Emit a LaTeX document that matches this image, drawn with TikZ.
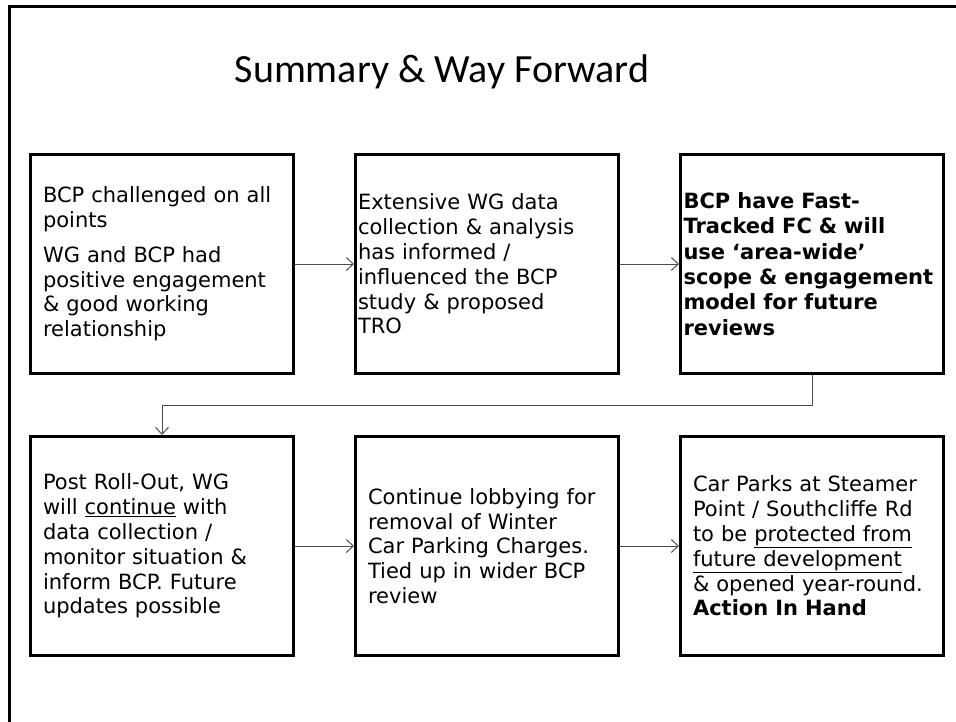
\documentclass[tikz,border=0pt]{standalone}
\usepackage{fontspec}
\setmainfont{DejaVu Sans}
\newfontfamily\titlefont{Carlito}
\usetikzlibrary{positioning, arrows.meta}

\begin{document}
\begin{tikzpicture}[x=1pt,y=-1pt,node distance=282pt and 325pt,on grid,
    >={Straight Barb[length=7pt,width=13pt]},
    box/.style={draw,line width=3pt,minimum width=263pt,minimum height=219pt,
      inner sep=0pt,align=left,font=\fontsize{21}{24.8}\selectfont},
    boldbox/.style={box,font=\fontsize{21}{25.4}\selectfont\bfseries},
    flow/.style={->,line width=1pt,black!70}]
	\useasboundingbox (0,0) rectangle (956,721);
	\draw[line width=3pt] (9,722) -- (9,6) -- (957,6);
	\node[anchor=base,font=\titlefont\fontsize{40}{46}\selectfont] (title) at (442,82) {Summary \& Way Forward};

	\node[box,text width=238pt] (b1) at (162,264)
		{BCP challenged on all\\points\\[10pt]WG and BCP had\\positive engagement\\\& good working\\relationship};
	\node[box,text width=258pt] (b2) [right=of b1]
		{Extensive WG data\\collection \& analysis\\has informed /\\influenced the BCP\\study \& proposed\\TRO};
	\node[boldbox,text width=257pt] (b3) [right=of b2]
		{BCP have Fast-\\Tracked FC \& will\\use ‘area-wide’\\scope \& engagement\\model for future\\reviews};
	\node[box,text width=238pt] (b4) [below=of b1]
		{Post Roll-Out, WG\\will \underline{continue} with\\data collection /\\monitor situation \&\\inform BCP. Future\\updates possible};
	\node[box,text width=238pt] (b5) [right=of b4]
		{Continue lobbying for\\removal of Winter\\Car Parking Charges.\\Tied up in wider BCP\\review};
	\node[box,text width=238pt] (b6) [right=of b5]
		{Car Parks at Steamer\\Point / Southcliffe Rd\\to be \underline{protected from}\\\underline{future development}\\\& opened year-round.\\\textbf{Action In Hand}};

	\draw[flow] (b1) -- (b2);
	\draw[flow] (b2) -- (b3);
	\draw[flow] (b3.south) -- ++(0,30) -| (b4.north);
	\draw[flow] (b4) -- (b5);
	\draw[flow] (b5) -- (b6);
\end{tikzpicture}
\end{document}
